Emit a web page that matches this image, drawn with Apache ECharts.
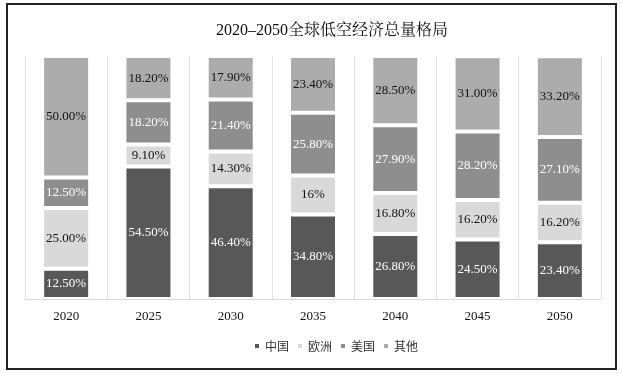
<!DOCTYPE html>
<html>
<head>
<meta charset="utf-8">
<script src="https://cdn.jsdelivr.net/npm/echarts@6/dist/echarts.min.js"></script>
<style>
html,body{margin:0;padding:0;background:#fff;}
#chart{width:622px;height:376px;}
</style>
</head>
<body>
<div id="chart"></div>
<script>
var categories = ['2020','2025','2030','2035','2040','2045','2050'];
var seriesNames = ['中国','欧洲','美国','其他'];
var china  = [12.5, 54.5, 46.4, 34.8, 26.8, 24.5, 23.4];
var europe = [25.0, 9.1, 14.3, 16.0, 16.8, 16.2, 16.2];
var usa    = [12.5, 18.2, 21.4, 25.8, 27.9, 28.2, 27.1];
var others = [50.0, 18.2, 17.9, 23.4, 28.5, 31.0, 33.2];
var chinaLabels  = ['12.50%','54.50%','46.40%','34.80%','26.80%','24.50%','23.40%'];
var europeLabels = ['25.00%','9.10%','14.30%','16%','16.80%','16.20%','16.20%'];
var usaLabels    = ['12.50%','18.20%','21.40%','25.80%','27.90%','28.20%','27.10%'];
var otherLabels  = ['50.00%','18.20%','17.90%','23.40%','28.50%','31.00%','33.20%'];

var colors = ['#585858','#d9d9d9','#8e8e8e','#acacac'];
var labelColors = ['#ffffff','#111111','#ffffff','#111111'];
var values = [china, europe, usa, others];
var labels = [chinaLabels, europeLabels, usaLabels, otherLabels];
var serif = '"Liberation Serif","Noto Serif CJK SC","Noto Sans CJK SC",serif';

var series = seriesNames.map(function(name, i){
  return {
    name: name,
    type: 'bar',
    stack: 'total',
    barWidth: 48,
    data: values[i],
    itemStyle: {color: colors[i], borderColor: '#ffffff', borderWidth: 2},
    label: {
      show: true,
      position: 'inside',
      color: labelColors[i],
      fontFamily: serif,
      fontSize: 13,
      formatter: function(p){ return labels[i][p.dataIndex]; }
    }
  };
});

var chart = echarts.init(document.getElementById('chart'), null, {renderer:'canvas'});
chart.setOption({
  animation: false,
  color: colors,
  title: {
    text: '2020–2050全球低空经济总量格局',
    left: 211,
    top: 18,
    textStyle: {fontFamily: serif, fontSize: 16, fontWeight: 'normal', color: '#111'}
  },
  legend: {
    data: seriesNames,
    left: 248,
    top: 335,
    itemWidth: 6,
    itemHeight: 6,
    itemGap: 7,
    icon: 'rect',
    textStyle: {fontFamily: '"Noto Sans CJK SC",sans-serif', fontSize: 12, color: '#333'}
  },
  grid: {left: 25, right: 21, top: 56, bottom: 77, containLabel: false},
  xAxis: {
    type: 'category',
    data: categories,
    axisLine: {show: true, lineStyle: {color: '#d9d9d9', width: 1}},
    axisTick: {show: false},
    splitLine: {show: true, lineStyle: {color: '#e3e3e3', width: 1}},
    axisLabel: {fontFamily: serif, fontSize: 13, color: '#111', margin: 11}
  },
  yAxis: {
    type: 'value',
    min: 0,
    max: 100,
    show: false,
    splitLine: {show: false}
  },
  graphic: [{
    type: 'rect',
    shape: {x: 7, y: 4, width: 609, height: 365},
    style: {fill: null, stroke: '#222', lineWidth: 2},
    silent: true,
    z: 100
  }],
  series: series
});
</script>
</body>
</html>
